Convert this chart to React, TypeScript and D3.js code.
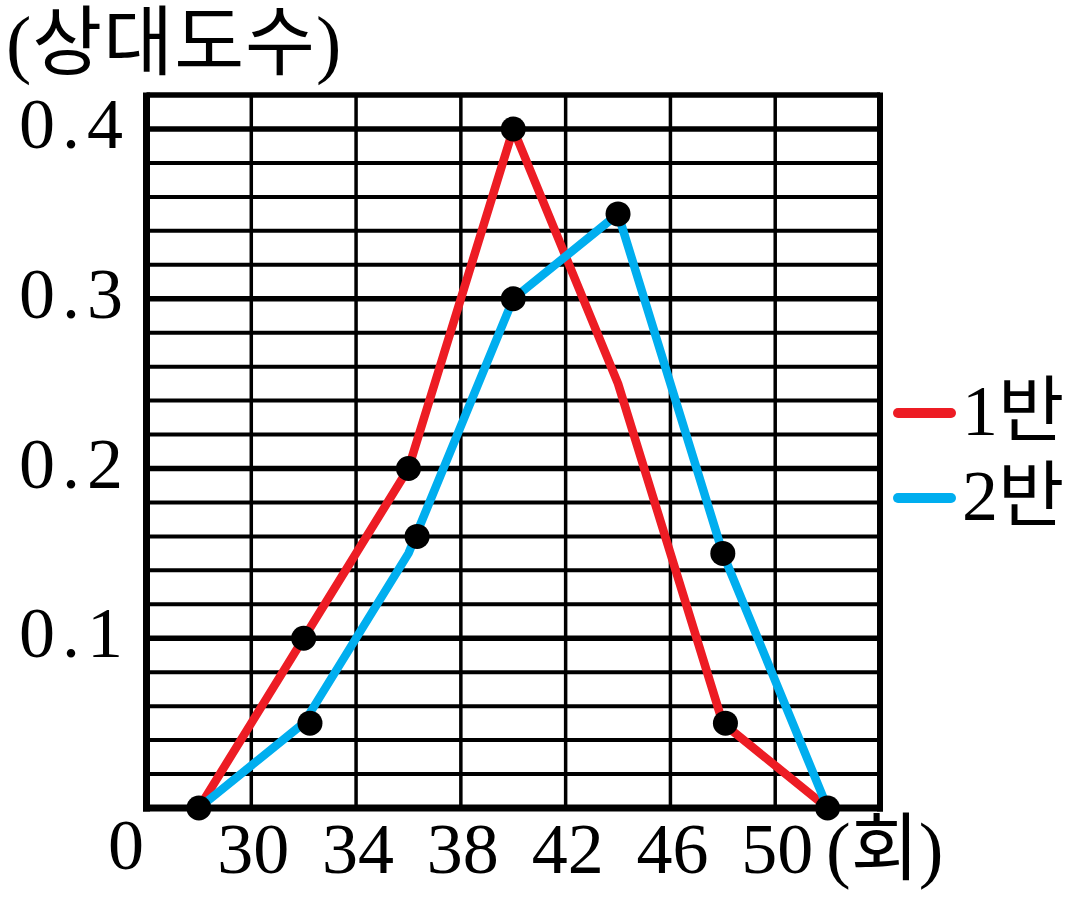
import { useEffect, useRef } from 'react';
import * as d3 from 'd3';

// values
const xValues = [28, 32, 36, 40, 44, 48, 52];
const class1 = [0, 0.1, 0.2, 0.4, 0.25, 0.05, 0];
const class2 = [0, 0.05, 0.15, 0.3, 0.35, 0.15, 0];

// dots as drawn in the picture (they sit slightly off the vertices in places)
const class1Dots: [number, number][] = [[28, 0], [32, 0.1], [36, 0.2], [40, 0.4], [48.1, 0.05], [52, 0]];
const class2Dots: [number, number][] = [[32.24, 0.05], [36.33, 0.16], [40, 0.3], [44, 0.35], [48, 0.15]];

const xTicks = [30, 34, 38, 42, 46, 50];
const yTicks = [0.1, 0.2, 0.3, 0.4];
const seriesNames = ['1반', '2반'];
const seriesColors = ['#ED1C24', '#00AEEF'];

const WIDTH = 1079;
const HEIGHT = 899;
const SERIF = '"Liberation Serif", "Noto Sans CJK KR", serif';

export default function App() {
  const svgRef = useRef<SVGSVGElement>(null);

  useEffect(() => {
    if (!svgRef.current) return;
    const svg = d3.select(svgRef.current);
    svg.selectAll('*').remove();

    const x = d3.scaleLinear().domain([26, 54]).range([146.5, 880]);
    const y = d3.scaleLinear().domain([0, 0.4]).range([808, 129]);

    svg.append('rect').attr('width', WIDTH).attr('height', HEIGHT).attr('fill', 'white');

    const grid = svg.append('g');
    // horizontal grid every 0.02
    const hLines = d3.range(1, 21).map(i => i * 0.02);
    grid.selectAll('line.h')
      .data(hLines)
      .enter().append('line')
      .attr('x1', x(26)).attr('x2', x(54))
      .attr('y1', d => y(d)).attr('y2', d => y(d))
      .attr('stroke', '#000')
      .attr('stroke-width', (d, i) => ((i + 1) % 5 === 0 ? 5.5 : 4));

    // vertical grid every 4
    grid.selectAll('line.v')
      .data(d3.range(30, 54, 4))
      .enter().append('line')
      .attr('x1', d => x(d)).attr('x2', d => x(d))
      .attr('y1', y(0.42)).attr('y2', y(0))
      .attr('stroke', '#000')
      .attr('stroke-width', 3.5);

    // frame
    svg.append('line').attr('x1', x(26)).attr('x2', x(54)).attr('y1', y(0.42)).attr('y2', y(0.42))
      .attr('stroke', '#000').attr('stroke-width', 5.5);
    svg.append('line').attr('x1', x(54)).attr('x2', x(54)).attr('y1', y(0.42) - 2.5).attr('y2', y(0) + 3.5)
      .attr('stroke', '#000').attr('stroke-width', 6);
    svg.append('line').attr('x1', x(26)).attr('x2', x(26)).attr('y1', y(0.42) - 2.5).attr('y2', y(0) + 3.5)
      .attr('stroke', '#000').attr('stroke-width', 7);
    svg.append('line').attr('x1', x(26) - 3.5).attr('x2', x(54) + 3).attr('y1', y(0)).attr('y2', y(0))
      .attr('stroke', '#000').attr('stroke-width', 7);

    // series lines
    const line = d3.line<number>()
      .x((d, i) => x(xValues[i]))
      .y(d => y(d));

    [class1, class2].forEach((s, i) => {
      svg.append('path')
        .attr('d', line(s))
        .attr('fill', 'none')
        .attr('stroke', seriesColors[i])
        .attr('stroke-width', 8.5)
        .attr('stroke-linejoin', 'round');
    });

    // dots
    [class1Dots, class2Dots].forEach(dots => {
      svg.selectAll(null)
        .data(dots)
        .enter().append('circle')
        .attr('cx', d => x(d[0]))
        .attr('cy', d => y(d[1]))
        .attr('r', 12.5)
        .attr('fill', '#000');
    });

    // y tick labels
    svg.selectAll('text.ytick')
      .data(yTicks)
      .enter().append('text')
      .attr('x', 130)
      .attr('y', d => y(d) + 19)
      .attr('text-anchor', 'end')
      .style('font-family', SERIF)
      .style('font-size', '72px')
      .style('letter-spacing', '7px')
      .text(d => d.toFixed(1));

    // origin
    svg.append('text')
      .attr('x', 126).attr('y', 869)
      .attr('text-anchor', 'middle')
      .style('font-family', SERIF)
      .style('font-size', '72px')
      .text('0');

    // x tick labels
    svg.selectAll('text.xtick')
      .data(xTicks)
      .enter().append('text')
      .attr('x', d => x(d) + 2)
      .attr('y', 873)
      .attr('text-anchor', 'middle')
      .style('font-family', SERIF)
      .style('font-size', '72px')
      .text(d => String(d));

    // axis unit labels
    svg.append('text')
      .attr('x', 826).attr('y', 874)
      .style('font-family', SERIF)
      .style('font-size', '74px')
      .text('(회)');

    svg.append('text')
      .attr('x', 6).attr('y', 69)
      .style('font-family', SERIF)
      .style('font-size', '76px')
      .style('letter-spacing', '1px')
      .text('(상대도수)');

    // legend
    const legend = svg.append('g');
    seriesNames.forEach((name, i) => {
      const ly = 413 + i * 85;
      legend.append('line')
        .attr('x1', 898).attr('x2', 951)
        .attr('y1', ly).attr('y2', ly)
        .attr('stroke', seriesColors[i])
        .attr('stroke-width', 10)
        .attr('stroke-linecap', 'round');
      legend.append('text')
        .attr('x', 962).attr('y', ly + 22)
        .style('font-family', SERIF)
        .style('font-size', '72px')
        .text(name);
    });
  }, []);

  return (
    <svg
      ref={svgRef}
      width={WIDTH}
      height={HEIGHT}
      style={{ position: 'absolute', left: 0, top: 0, background: 'white' }}
    />
  );
}
